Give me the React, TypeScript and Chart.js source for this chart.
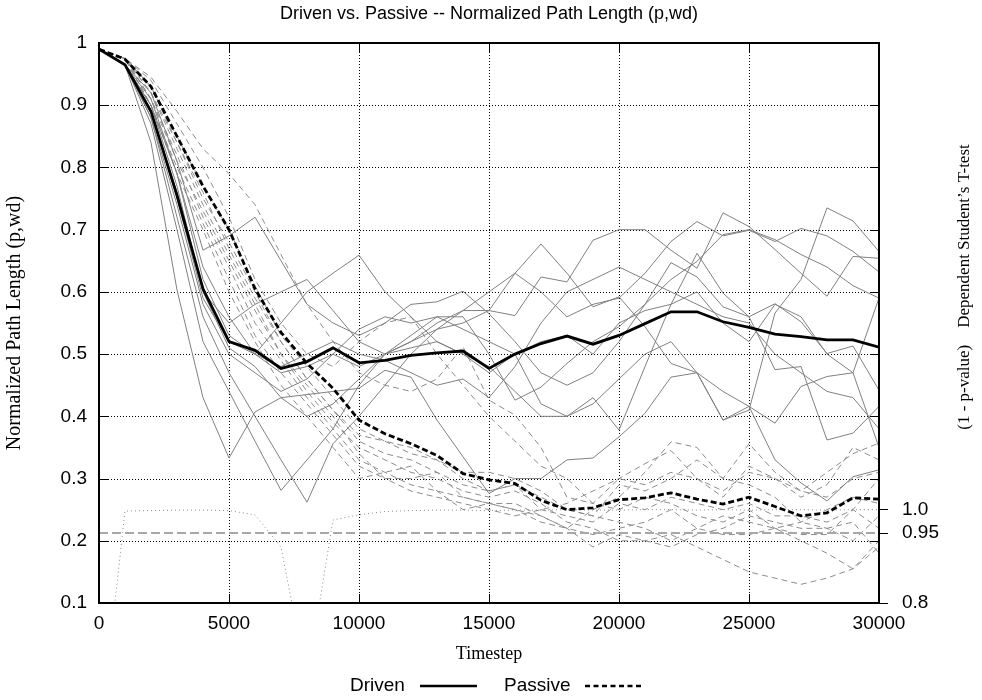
import React, { useEffect, useRef } from "react";
import { Chart, registerables } from "chart.js";

Chart.register(...registerables);

// ---------- data ----------
const TIMESTEPS = [0, 1000, 2000, 3000, 4000, 5000, 6000, 7000, 8000, 9000, 10000, 11000, 12000, 13000, 14000, 15000, 16000, 17000, 18000, 19000, 20000, 21000, 22000, 23000, 24000, 25000, 26000, 27000, 28000, 29000, 30000];

const DRIVEN_MEAN = [0.99, 0.965, 0.89, 0.755, 0.605, 0.52, 0.506, 0.477, 0.488, 0.51, 0.486, 0.49, 0.498, 0.502, 0.505, 0.477, 0.5, 0.517, 0.529, 0.516, 0.53, 0.549, 0.568, 0.568, 0.552, 0.543, 0.532, 0.528, 0.523, 0.523, 0.511];
const PASSIVE_MEAN = [0.99, 0.974, 0.93, 0.85, 0.77, 0.7, 0.605, 0.535, 0.485, 0.445, 0.394, 0.372, 0.356, 0.337, 0.308, 0.298, 0.292, 0.265, 0.25, 0.253, 0.266, 0.269, 0.277, 0.267, 0.259, 0.27, 0.255, 0.24, 0.245, 0.269, 0.267];

const DRIVEN_RUN_1 = [0.99, 0.965, 0.84, 0.603, 0.43, 0.333, 0.407, 0.43, 0.435, 0.44, 0.445, 0.474, 0.463, 0.394, 0.335, 0.276, 0.3, 0.3, 0.33, 0.333, 0.367, 0.405, 0.463, 0.47, 0.394, 0.41, 0.566, 0.62, 0.735, 0.714, 0.665];
const DRIVEN_RUN_2 = [0.99, 0.965, 0.88, 0.72, 0.56, 0.47, 0.4, 0.33, 0.262, 0.356, 0.4, 0.45, 0.5, 0.54, 0.57, 0.6, 0.63, 0.677, 0.63, 0.576, 0.592, 0.544, 0.485, 0.47, 0.44, 0.416, 0.33, 0.293, 0.264, 0.303, 0.314];
const DRIVEN_RUN_3 = [0.99, 0.965, 0.87, 0.7, 0.52, 0.44, 0.36, 0.281, 0.33, 0.38, 0.45, 0.5, 0.52, 0.55, 0.57, 0.57, 0.562, 0.624, 0.616, 0.683, 0.7, 0.7, 0.667, 0.638, 0.727, 0.705, 0.668, 0.63, 0.593, 0.657, 0.654];
const DRIVEN_RUN_4 = [0.99, 0.965, 0.9, 0.79, 0.62, 0.53, 0.5, 0.55, 0.6, 0.63, 0.659, 0.6, 0.56, 0.52, 0.5, 0.48, 0.44, 0.4, 0.4, 0.43, 0.378, 0.48, 0.58, 0.662, 0.598, 0.56, 0.475, 0.48, 0.362, 0.373, 0.416];
const DRIVEN_RUN_5 = [0.99, 0.965, 0.92, 0.81, 0.667, 0.69, 0.72, 0.65, 0.58, 0.55, 0.53, 0.55, 0.58, 0.584, 0.601, 0.565, 0.52, 0.47, 0.45, 0.47, 0.52, 0.58, 0.647, 0.624, 0.576, 0.56, 0.581, 0.552, 0.501, 0.513, 0.442];
const DRIVEN_RUN_6 = [0.99, 0.965, 0.9, 0.77, 0.6, 0.55, 0.58, 0.6, 0.62, 0.57, 0.52, 0.5, 0.52, 0.54, 0.55, 0.57, 0.63, 0.6, 0.56, 0.58, 0.59, 0.63, 0.681, 0.713, 0.69, 0.699, 0.681, 0.702, 0.69, 0.665, 0.632];
const DRIVEN_RUN_7 = [0.99, 0.965, 0.88, 0.74, 0.58, 0.5, 0.47, 0.44, 0.46, 0.5, 0.54, 0.56, 0.55, 0.56, 0.56, 0.5, 0.426, 0.447, 0.485, 0.52, 0.544, 0.58, 0.62, 0.649, 0.692, 0.7, 0.684, 0.66, 0.64, 0.61, 0.59];
const DRIVEN_RUN_8 = [0.99, 0.965, 0.89, 0.75, 0.59, 0.52, 0.5, 0.47, 0.48, 0.5, 0.48, 0.5, 0.53, 0.56, 0.54, 0.52, 0.5, 0.42, 0.4, 0.42, 0.46, 0.5, 0.52, 0.47, 0.394, 0.416, 0.389, 0.448, 0.464, 0.47, 0.59];
const DRIVEN_RUN_9 = [0.99, 0.965, 0.91, 0.79, 0.64, 0.56, 0.5, 0.48, 0.5, 0.52, 0.5, 0.49, 0.47, 0.45, 0.46, 0.43, 0.48, 0.55, 0.6, 0.62, 0.64, 0.62, 0.6, 0.58, 0.56, 0.55, 0.5, 0.47, 0.44, 0.43, 0.38];
const DRIVEN_RUN_10 = [0.99, 0.965, 0.89, 0.76, 0.6, 0.51, 0.48, 0.43, 0.4, 0.42, 0.46, 0.5, 0.51, 0.52, 0.5, 0.47, 0.5, 0.52, 0.53, 0.5, 0.55, 0.57, 0.58, 0.6, 0.55, 0.52, 0.58, 0.56, 0.5, 0.47, 0.35];

const PASSIVE_RUN_1 = [0.99, 0.975, 0.945, 0.89, 0.83, 0.79, 0.74, 0.66, 0.58, 0.52, 0.47, 0.45, 0.44, 0.46, 0.512, 0.426, 0.402, 0.35, 0.27, 0.26, 0.3, 0.29, 0.31, 0.3, 0.28, 0.31, 0.3, 0.28, 0.27, 0.3, 0.31];
const PASSIVE_RUN_2 = [0.99, 0.975, 0.94, 0.87, 0.8, 0.72, 0.62, 0.55, 0.5, 0.48, 0.52, 0.55, 0.56, 0.5, 0.45, 0.4, 0.36, 0.32, 0.3, 0.26, 0.25, 0.27, 0.26, 0.24, 0.23, 0.25, 0.22, 0.21, 0.21, 0.25, 0.3];
const PASSIVE_RUN_3 = [0.99, 0.975, 0.93, 0.85, 0.77, 0.7, 0.61, 0.53, 0.48, 0.43, 0.38, 0.36, 0.35, 0.33, 0.3, 0.28, 0.29, 0.27, 0.25, 0.24, 0.29, 0.28, 0.3, 0.33, 0.3, 0.29, 0.27, 0.23, 0.22, 0.2, 0.24];
const PASSIVE_RUN_4 = [0.99, 0.975, 0.93, 0.84, 0.76, 0.67, 0.59, 0.52, 0.46, 0.41, 0.36, 0.34, 0.33, 0.31, 0.27, 0.26, 0.25, 0.23, 0.22, 0.25, 0.27, 0.31, 0.359, 0.35, 0.3, 0.356, 0.31, 0.28, 0.31, 0.34, 0.357];
const PASSIVE_RUN_5 = [0.99, 0.975, 0.92, 0.83, 0.74, 0.66, 0.58, 0.5, 0.45, 0.4, 0.34, 0.3, 0.28, 0.27, 0.26, 0.25, 0.24, 0.25, 0.26, 0.28, 0.3, 0.324, 0.345, 0.3, 0.27, 0.32, 0.3, 0.27, 0.29, 0.35, 0.33];
const PASSIVE_RUN_6 = [0.99, 0.975, 0.91, 0.82, 0.72, 0.64, 0.55, 0.49, 0.43, 0.38, 0.33, 0.31, 0.29, 0.28, 0.27, 0.26, 0.26, 0.24, 0.22, 0.21, 0.22, 0.23, 0.25, 0.22, 0.21, 0.21, 0.22, 0.23, 0.25, 0.27, 0.26];
const PASSIVE_RUN_7 = [0.99, 0.975, 0.9, 0.8, 0.71, 0.62, 0.53, 0.47, 0.42, 0.37, 0.32, 0.3, 0.3, 0.31, 0.29, 0.28, 0.29, 0.25, 0.24, 0.23, 0.26, 0.25, 0.27, 0.26, 0.25, 0.26, 0.24, 0.24, 0.23, 0.25, 0.22];
const PASSIVE_RUN_8 = [0.99, 0.975, 0.9, 0.79, 0.7, 0.6, 0.52, 0.45, 0.4, 0.35, 0.3, 0.31, 0.32, 0.28, 0.25, 0.26, 0.25, 0.24, 0.22, 0.19, 0.21, 0.2, 0.19, 0.21, 0.22, 0.24, 0.23, 0.22, 0.22, 0.23, 0.18];
const PASSIVE_RUN_9 = [0.99, 0.975, 0.91, 0.81, 0.73, 0.65, 0.57, 0.5, 0.44, 0.39, 0.35, 0.33, 0.31, 0.3, 0.28, 0.27, 0.28, 0.26, 0.23, 0.22, 0.2, 0.2, 0.21, 0.19, 0.17, 0.15, 0.14, 0.13, 0.14, 0.155, 0.19];
const PASSIVE_RUN_10 = [0.99, 0.975, 0.92, 0.84, 0.75, 0.68, 0.6, 0.52, 0.46, 0.41, 0.37, 0.36, 0.34, 0.33, 0.31, 0.31, 0.3, 0.28, 0.25, 0.24, 0.23, 0.22, 0.2, 0.22, 0.24, 0.23, 0.22, 0.2, 0.18, 0.155, 0.2];

// (1 - p-value), right axis
const ONE_MINUS_P = [0.49, 0.997, 0.998, 0.999, 0.999, 0.998, 0.989, 0.92, 0.634, 0.978, 0.989, 0.996, 0.998, 0.999, 0.999, 0.998, 0.999, 0.999, 1.0, 0.999, 0.999, 1.0, 1.0, 0.999, 1.0, 0.999, 1.0, 1.0, 0.999, 1.0, 1.0];
const SIGNIFICANCE_LEVEL = 0.95;

const X_TICKS = [0, 5000, 10000, 15000, 20000, 25000, 30000];
const Y_TICKS = [0.1, 0.2, 0.3, 0.4, 0.5, 0.6, 0.7, 0.8, 0.9, 1.0];
const Y_TICK_LABELS = ["0.1", "0.2", "0.3", "0.4", "0.5", "0.6", "0.7", "0.8", "0.9", "1"];
const Y2_TICKS = [0.8, 0.95, 1.0];
const Y2_TICK_LABELS = ["0.8", "0.95", "1.0"];

const DRIVEN_RUNS = [DRIVEN_RUN_1, DRIVEN_RUN_2, DRIVEN_RUN_3, DRIVEN_RUN_4, DRIVEN_RUN_5, DRIVEN_RUN_6, DRIVEN_RUN_7, DRIVEN_RUN_8, DRIVEN_RUN_9, DRIVEN_RUN_10];
const PASSIVE_RUNS = [PASSIVE_RUN_1, PASSIVE_RUN_2, PASSIVE_RUN_3, PASSIVE_RUN_4, PASSIVE_RUN_5, PASSIVE_RUN_6, PASSIVE_RUN_7, PASSIVE_RUN_8, PASSIVE_RUN_9, PASSIVE_RUN_10];

const TITLE = "Driven vs. Passive -- Normalized Path Length (p,wd)";
const X_TITLE = "Timestep";
const Y_TITLE = "Normalized Path Length (p,wd)";
const Y2_TITLE = "(1 - p-value)    Dependent Student\u2019s T-test";

const SANS = "'Liberation Sans', Arial, Helvetica, sans-serif";
const SERIF = "'Liberation Serif', 'Times New Roman', serif";

const toPoints = (vals: number[]) => vals.map((v, i) => ({ x: TIMESTEPS[i], y: v }));

const framePlugin = {
  id: "gnuplotFrame",
  beforeDatasetsDraw(chart: any) {
    const { ctx, chartArea } = chart;
    const { left, right, top, bottom } = chartArea;
    const xs = chart.scales.x;
    const ys = chart.scales.y;
    ctx.save();
    ctx.strokeStyle = "#000";
    ctx.lineWidth = 1;
    ctx.setLineDash([1, 2]);
    X_TICKS.forEach((t) => {
      const px = Math.round(xs.getPixelForValue(t)) + 0.5;
      if (px > left + 2 && px < right - 2) {
        ctx.beginPath();
        ctx.moveTo(px, top);
        ctx.lineTo(px, bottom);
        ctx.stroke();
      }
    });
    Y_TICKS.forEach((v) => {
      const py = Math.round(ys.getPixelForValue(v)) + 0.5;
      if (py > top + 2 && py < bottom - 2) {
        ctx.beginPath();
        ctx.moveTo(left, py);
        ctx.lineTo(right, py);
        ctx.stroke();
      }
    });
    ctx.restore();
  },
  afterDatasetsDraw(chart: any) {
    const { ctx, chartArea } = chart;
    const { left, right, top, bottom } = chartArea;
    const xs = chart.scales.x;
    const ys = chart.scales.y;
    ctx.save();
    ctx.strokeStyle = "#000";
    ctx.setLineDash([]);
    ctx.lineWidth = 1;
    const TL = 9;
    X_TICKS.forEach((t) => {
      const px = Math.round(xs.getPixelForValue(t)) + 0.5;
      ctx.beginPath();
      ctx.moveTo(px, bottom);
      ctx.lineTo(px, bottom - TL);
      ctx.moveTo(px, top);
      ctx.lineTo(px, top + TL);
      ctx.stroke();
    });
    Y_TICKS.forEach((v) => {
      const py = Math.round(ys.getPixelForValue(v)) + 0.5;
      ctx.beginPath();
      ctx.moveTo(left, py);
      ctx.lineTo(left + TL, py);
      ctx.moveTo(right, py);
      ctx.lineTo(right - TL, py);
      ctx.stroke();
    });
    ctx.lineWidth = 2;
    ctx.strokeRect(left, top, right - left, bottom - top);
    ctx.restore();
  },
  afterDraw(chart: any) {
    const { ctx, chartArea } = chart;
    const { left, right, top, bottom } = chartArea;
    const cx = (left + right) / 2;
    const cy = (top + bottom) / 2;
    ctx.save();
    ctx.fillStyle = "#000";
    ctx.textBaseline = "middle";
    ctx.textAlign = "center";
    ctx.font = `18px ${SANS}`;
    ctx.fillText(TITLE, cx, 14);
    ctx.font = `18px ${SERIF}`;
    ctx.fillText(X_TITLE, cx, 654);
    ctx.save();
    ctx.font = `20px ${SERIF}`;
    ctx.translate(15, cy);
    ctx.rotate(-Math.PI / 2);
    ctx.fillText(Y_TITLE, 0, 0);
    ctx.restore();
    ctx.save();
    ctx.font = `17px ${SERIF}`;
    ctx.translate(965, 287);
    ctx.rotate(-Math.PI / 2);
    ctx.fillText(Y2_TITLE, 0, 0);
    ctx.restore();

    // legend
    const ly = 686;
    ctx.font = `19px ${SANS}`;
    ctx.textAlign = "left";
    ctx.fillText("Driven", 350, ly);
    ctx.fillText("Passive", 504, ly);
    ctx.strokeStyle = "#000";
    ctx.lineWidth = 2.5;
    ctx.beginPath();
    ctx.moveTo(420, ly);
    ctx.lineTo(477, ly);
    ctx.stroke();
    ctx.setLineDash([5, 3.5]);
    ctx.beginPath();
    ctx.moveTo(585, ly);
    ctx.lineTo(644, ly);
    ctx.stroke();
    ctx.restore();
  },
};

export default function App() {
  const canvasRef = useRef<HTMLCanvasElement | null>(null);

  useEffect(() => {
    const canvas = canvasRef.current;
    if (!canvas) return;

    const datasets: any[] = [
      {
        label: "Driven",
        data: toPoints(DRIVEN_MEAN),
        borderColor: "#000",
        borderWidth: 2.8,
        yAxisID: "y",
      },
      {
        label: "Passive",
        data: toPoints(PASSIVE_MEAN),
        borderColor: "#000",
        borderWidth: 2.8,
        borderDash: [6, 3],
        yAxisID: "y",
      },
      {
        label: "1 - p",
        data: toPoints(ONE_MINUS_P),
        borderColor: "#8a8a8a",
        borderWidth: 1,
        borderDash: [1, 3],
        yAxisID: "y2",
      },
      {
        label: "0.95",
        data: [
          { x: TIMESTEPS[0], y: SIGNIFICANCE_LEVEL },
          { x: TIMESTEPS[TIMESTEPS.length - 1], y: SIGNIFICANCE_LEVEL },
        ],
        borderColor: "#a8a8a8",
        borderWidth: 2,
        borderDash: [9, 4],
        yAxisID: "y2",
      },
    ];
    DRIVEN_RUNS.forEach((run, i) =>
      datasets.push({
        label: `driven ${i + 1}`,
        data: toPoints(run),
        borderColor: "#808080",
        borderWidth: 1,
        yAxisID: "y",
      })
    );
    PASSIVE_RUNS.forEach((run, i) =>
      datasets.push({
        label: `passive ${i + 1}`,
        data: toPoints(run),
        borderColor: "#8c8c8c",
        borderWidth: 1,
        borderDash: [6, 4],
        yAxisID: "y",
      })
    );

    const tickFont = { family: SANS, size: 19 };

    const chart = new Chart(canvas, {
      type: "line",
      data: { datasets },
      options: {
        responsive: false,
        animation: false,
        devicePixelRatio: 1,
        layout: { padding: { top: 43, left: 0, right: 0, bottom: 0 } },
        elements: {
          point: { radius: 0, hoverRadius: 0 },
          line: { tension: 0, fill: false, borderCapStyle: "butt", borderJoinStyle: "miter" },
        },
        plugins: {
          legend: { display: false },
          tooltip: { enabled: false },
          title: { display: false },
        },
        events: [],
        scales: {
          x: {
            type: "linear",
            min: 0,
            max: 30000,
            afterBuildTicks: (s: any) => {
              s.ticks = X_TICKS.map((v) => ({ value: v }));
            },
            afterFit: (s: any) => {
              s.height = 97;
            },
            grid: { display: false, drawTicks: false },
            border: { display: false },
            ticks: {
              autoSkip: false,
              maxRotation: 0,
              minRotation: 0,
              padding: 9,
              color: "#000",
              font: tickFont,
              callback: (v: any) => String(v),
            },
          },
          y: {
            type: "linear",
            position: "left",
            min: 0.1,
            max: 1.0,
            afterBuildTicks: (s: any) => {
              s.ticks = Y_TICKS.map((v) => ({ value: v }));
            },
            afterFit: (s: any) => {
              s.width = 99;
            },
            grid: { display: false, drawTicks: false },
            border: { display: false },
            ticks: {
              padding: 12,
              color: "#000",
              font: tickFont,
              callback: (v: any) => {
                const idx = Y_TICKS.findIndex((t) => Math.abs(t - v) < 1e-6);
                return idx >= 0 ? Y_TICK_LABELS[idx] : "";
              },
            },
          },
          y2: {
            type: "linear",
            position: "right",
            min: 0.8,
            max: 2.0,
            afterBuildTicks: (s: any) => {
              s.ticks = Y2_TICKS.map((v) => ({ value: v }));
            },
            afterFit: (s: any) => {
              s.width = 103;
            },
            grid: {
              display: true,
              drawOnChartArea: false,
              drawTicks: true,
              tickLength: 9,
              color: "#000",
              tickColor: "#000",
              lineWidth: 1,
            },
            border: { display: false },
            ticks: {
              padding: 14,
              color: "#000",
              font: tickFont,
              callback: (v: any) => {
                const idx = Y2_TICKS.findIndex((t) => Math.abs(t - v) < 1e-6);
                return idx >= 0 ? Y2_TICK_LABELS[idx] : "";
              },
            },
          },
        },
      },
      plugins: [framePlugin],
    } as any);

    return () => chart.destroy();
  }, []);

  return (
    <div style={{ position: "fixed", left: 0, top: 0, width: 982, height: 700, background: "#fff" }}>
      <canvas ref={canvasRef} width={982} height={700} style={{ width: 982, height: 700, display: "block" }} />
    </div>
  );
}
